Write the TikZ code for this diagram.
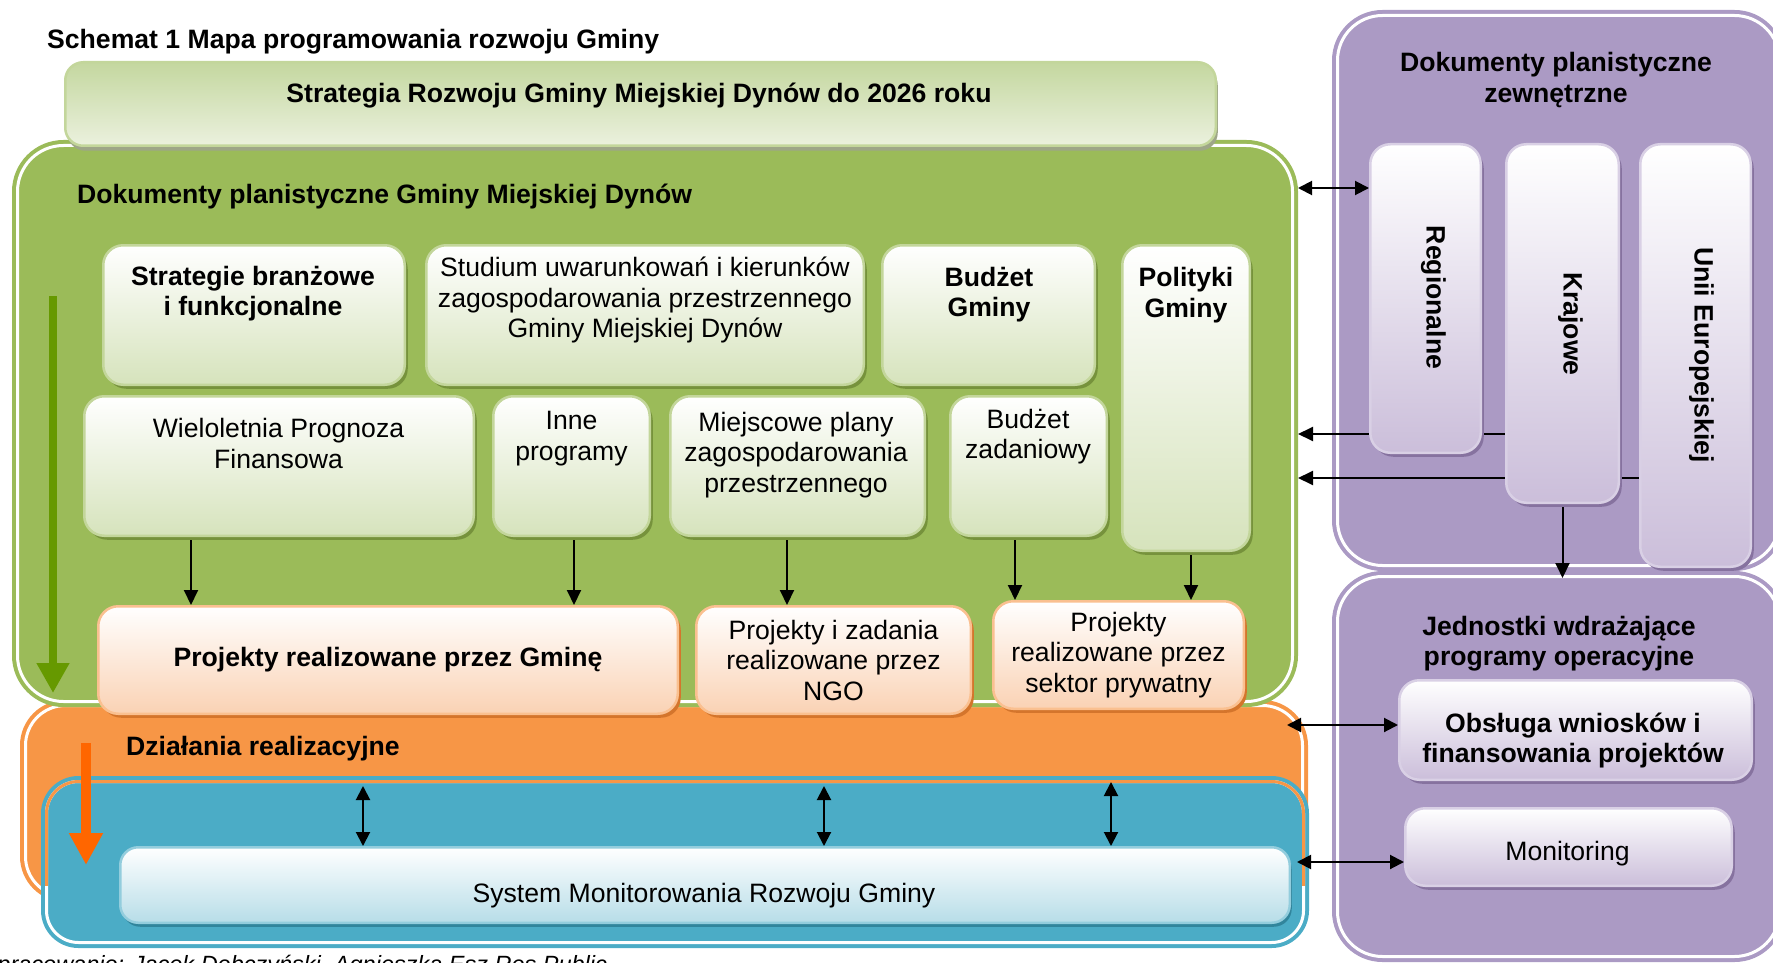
\documentclass[tikz,border=0pt]{standalone}
\usepackage{fontspec}
\setmainfont{Liberation Sans}
\usetikzlibrary{arrows.meta,shadows}

\definecolor{panelgreen}{HTML}{9BBB59}
\definecolor{panelorange}{HTML}{F79646}
\definecolor{panelblue}{HTML}{4BACC6}
\definecolor{panelpurple}{HTML}{AB9AC4}
\definecolor{arrowgreen}{HTML}{669900}
\definecolor{arroworange}{HTML}{FF6600}
\definecolor{fillgreen}{HTML}{D6E3BC}
\definecolor{edgegreen}{HTML}{C3D69B}
\definecolor{shadowgreen}{HTML}{76923C}
\definecolor{fillpeach}{HTML}{FAD2B4}
\definecolor{edgepeach}{HTML}{FAC090}
\definecolor{shadowpeach}{HTML}{D4752C}
\definecolor{filllilac}{HTML}{CBBEDA}
\definecolor{edgelilac}{HTML}{D9D0E5}
\definecolor{shadowlilac}{HTML}{86729F}
\definecolor{fillcyan}{HTML}{B7DDE8}
\definecolor{edgecyan}{HTML}{93CDDD}
\definecolor{shadowcyan}{HTML}{31859C}
\definecolor{bannertop}{HTML}{C4D79F}
\definecolor{bannerbottom}{HTML}{EBF1DE}
\definecolor{shadowbanner}{HTML}{9EA688}

\pgfdeclarelayer{bg}
\pgfsetlayers{bg,main}

\tikzset{
  txt/.style={font=\fontsize{26.6}{30.5}\selectfont, align=center, inner sep=0pt},
  btxt/.style={txt, font=\fontsize{26.6}{30.5}\selectfont\bfseries},
  panel/.style={line width=4pt, double=white, double distance=3pt, outer sep=5.5pt, inner sep=0pt},
  box/.style={line width=2.5pt, rounded corners=20pt, inner sep=0pt},
  gbox/.style={box, draw=edgegreen, top color=white, bottom color=fillgreen,
    drop shadow={shadow xshift=3pt, shadow yshift=-4pt, fill=shadowgreen, opacity=1}},
  pbox/.style={box, draw=edgepeach, top color=white, bottom color=fillpeach,
    drop shadow={shadow xshift=3pt, shadow yshift=-4pt, fill=shadowpeach, opacity=1}},
  lbox/.style={box, draw=edgelilac, top color=white, bottom color=filllilac,
    drop shadow={shadow xshift=3pt, shadow yshift=-4pt, fill=shadowlilac, opacity=1}},
  cbox/.style={box, draw=edgecyan, top color=white, bottom color=fillcyan,
    drop shadow={shadow xshift=2pt, shadow yshift=-4pt, fill=shadowcyan, opacity=1}},
  arr/.style={line width=2pt, -{Triangle[length=15pt,width=14pt]}},
  darr/.style={line width=2pt, {Triangle[length=14pt,width=14pt]}-{Triangle[length=14pt,width=14pt]}},
}

\begin{document}
\begin{tikzpicture}[x=1pt,y=-1pt]
\useasboundingbox (0,0) rectangle (1773,963);

% panels
\begin{pgfonlayer}{bg}
\node[panel, fill=panelorange, draw=panelorange, rounded corners=40pt, minimum width=1277pt, minimum height=191pt] (pdzial) at (664,801) {};
\node[panel, fill=panelgreen, draw=panelgreen, rounded corners=46pt, minimum width=1275pt, minimum height=556pt] (pdok) at (655,423.5) {};
\node[panel, fill=panelblue, draw=panelblue, rounded corners=32pt, minimum width=1257pt, minimum height=161pt] (psys) at (675,862) {};
\begin{scope}
  \clip (30,770) rectangle (1320,885);
  \draw[panelorange, line width=3pt, rounded corners=32pt] (46.5,781.5) rectangle (1303.5,942.5);
\end{scope}
\node[panel, fill=panelpurple, draw=panelpurple, rounded corners=45pt, minimum width=442pt, minimum height=550pt] (pzew) at (1558.5,290.5) {};
\node[panel, fill=panelpurple, draw=panelpurple, rounded corners=45pt, minimum width=442pt, minimum height=380pt] (pjed) at (1558.5,766.5) {};
\end{pgfonlayer}

\node[btxt, anchor=west] (tytul) at (47,41.5) {Schemat 1 Mapa programowania rozwoju Gminy};
\node[btxt, anchor=west] (pdok-t) at (77,197) {Dokumenty planistyczne Gminy Miejskiej Dynów};
\node[btxt, anchor=west] (pdzial-t) at (126,749) {Działania realizacyjne};
\node[btxt] (pzew-t) at (1556,80) {Dokumenty planistyczne\\zewnętrzne};
\node[btxt] (pjed-t) at (1559,643.5) {Jednostki wdrażające\\programy operacyjne};

% banner
\node[box, draw=edgegreen, top color=bannertop, bottom color=bannerbottom, rounded corners=18pt,
  drop shadow={shadow xshift=2pt, shadow yshift=-5pt, fill=shadowbanner, opacity=1},
  minimum width=1150.5pt, minimum height=83.5pt] (banner) at (640.5,104) {};
\node[btxt] (banner-t) at (639,96) {Strategia Rozwoju Gminy Miejskiej Dynów do 2026 roku};

% gminne dokumenty
\node[gbox, minimum width=301.5pt, minimum height=139.5pt] (strat) at (254,315) {};
\node[btxt] (strat-t) at (253,293.5) {Strategie branżowe\\i funkcjonalne};
\node[gbox, minimum width=437.5pt, minimum height=139.5pt] (stud) at (645,315) {};
\node[txt] (stud-t) at (645,300) {Studium uwarunkowań i kierunków\\zagospodarowania przestrzennego\\Gminy Miejskiej Dynów};
\node[gbox, minimum width=212.5pt, minimum height=139.5pt] (budg) at (988.5,315) {};
\node[btxt] (budg-t) at (989,294.5) {Budżet\\Gminy};
\node[gbox, minimum width=127.5pt, minimum height=305.5pt] (pol) at (1186,398) {};
\node[btxt] (pol-t) at (1186,295) {Polityki\\Gminy};
\node[gbox, minimum width=389.5pt, minimum height=139.5pt] (wpf) at (279,466) {};
\node[txt] (wpf-t) at (278.5,443.5) {Wieloletnia Prognoza\\Finansowa};
\node[gbox, minimum width=156.5pt, minimum height=139.5pt] (inne) at (571.5,466) {};
\node[txt] (inne-t) at (571.5,438.5) {Inne\\programy};
\node[gbox, minimum width=254.5pt, minimum height=139.5pt] (mpzp) at (797.5,466) {};
\node[txt] (mpzp-t) at (796,455) {Miejscowe plany\\zagospodarowania\\przestrzennego};
\node[gbox, minimum width=156.5pt, minimum height=139.5pt] (bzad) at (1028.5,466) {};
\node[txt] (bzad-t) at (1028,436.5) {Budżet\\zadaniowy};

% projekty
\node[pbox, btxt, minimum width=579.5pt, minimum height=107.5pt] (pgm) at (388,660) {Projekty realizowane przez Gminę};
\node[pbox, txt, minimum width=274.5pt, minimum height=107.5pt] (ngo) at (833.5,660) {Projekty i zadania\\realizowane przez\\NGO};
\node[pbox, txt, minimum width=250.5pt, minimum height=107.5pt] (spr) at (1118.5,655) {Projekty\\realizowane przez\\sektor prywatny};

% monitoring
\node[cbox, rounded corners=18pt, minimum width=1169.5pt, minimum height=75.5pt] (sys) at (705,885) {};
\node[txt] (sys-t) at (704,895.5) {System Monitorowania Rozwoju Gminy};

% zewnetrzne
\node[lbox, minimum width=110.5pt, minimum height=308.5pt] (reg) at (1425.5,298.5) {};
\node[btxt, rotate=-90] (reg-t) at (1433.5,297.5) {Regionalne};
\node[lbox, minimum width=112.5pt, minimum height=358.5pt] (kra) at (1562.5,323.5) {};
\node[btxt, rotate=-90] (kra-t) at (1570.5,324) {Krajowe};
\node[lbox, minimum width=110.5pt, minimum height=422.5pt] (uni) at (1695.5,355.5) {};
\node[btxt, rotate=-90] (uni-t) at (1701.5,355) {Unii Europejskiej};
\node[lbox, minimum width=352.5pt, minimum height=99.5pt] (obs) at (1575.5,730) {};
\node[btxt] (obs-t) at (1573,740.5) {Obsługa wniosków i\\finansowania projektów};
\node[lbox, minimum width=326.5pt, minimum height=77.5pt] (mon) at (1568.5,847) {};
\node[txt] (mon-t) at (1567.5,854) {Monitoring};

\node[anchor=base west, inner sep=0pt, font=\fontsize{23.5}{28}\selectfont\itshape] (zrodlo) at (-21,972) {Opracowanie: Jacek Dębczyński, Agnieszka Esz Res Public};

% helper levels
\coordinate (v1) at (191,0);
\coordinate (v2) at (574,0);
\coordinate (v3) at (787,0);
\coordinate (v4) at (1015,0);
\coordinate (v5) at (1191,0);
\coordinate (h1) at (0,188);
\coordinate (h2) at (0,434);
\coordinate (h3) at (0,478);
\coordinate (h4) at (0,725);
\coordinate (h5) at (0,862);
\coordinate (s1) at (363,786);
\coordinate (s2) at (824,786);
\coordinate (s3) at (1111,782);
\coordinate (gtop) at (53,296);
\coordinate (gbot) at (53,693);
\coordinate (otop) at (86,743);
\coordinate (obot) at (86,865);

\begin{pgfonlayer}{bg}
\draw[arrowgreen, line width=8pt, -{Triangle[length=30pt,width=31pt]}] (gtop) -- (gbot);
\draw[arroworange, line width=10pt, -{Triangle[length=32pt,width=32pt]}] (otop) -- (obot);
\draw[arr] (wpf.south -| v1) -- (pgm.north -| v1);
\draw[arr] (inne.south -| v2) -- (pgm.north -| v2);
\draw[arr] (mpzp.south -| v3) -- (ngo.north -| v3);
\draw[arr] (bzad.south -| v4) -- (spr.north -| v4);
\draw[arr] (pol.south -| v5) -- (spr.north -| v5);
\draw[darr] (s1) -- (s1 |- sys.north);
\draw[darr] (s2) -- (s2 |- sys.north);
\draw[darr] (s3) -- (s3 |- sys.north);
\draw[darr] (pdok.east |- h1) -- (reg.west |- h1);
\draw[arr] (kra.west |- h2) -- (pdok.east |- h2);
\draw[arr] (uni.west |- h3) -- (pdok.east |- h3);
\draw[arr, shorten >=-7pt] (kra.south) -- (kra.south |- pjed.north);
\draw[darr, shorten <=-21pt] (pdzial.east |- h4) -- (obs.west |- h4);
\draw[darr, shorten <=6pt] (sys.east |- h5) -- (mon.west |- h5);
\end{pgfonlayer}
\end{tikzpicture}
\end{document}
